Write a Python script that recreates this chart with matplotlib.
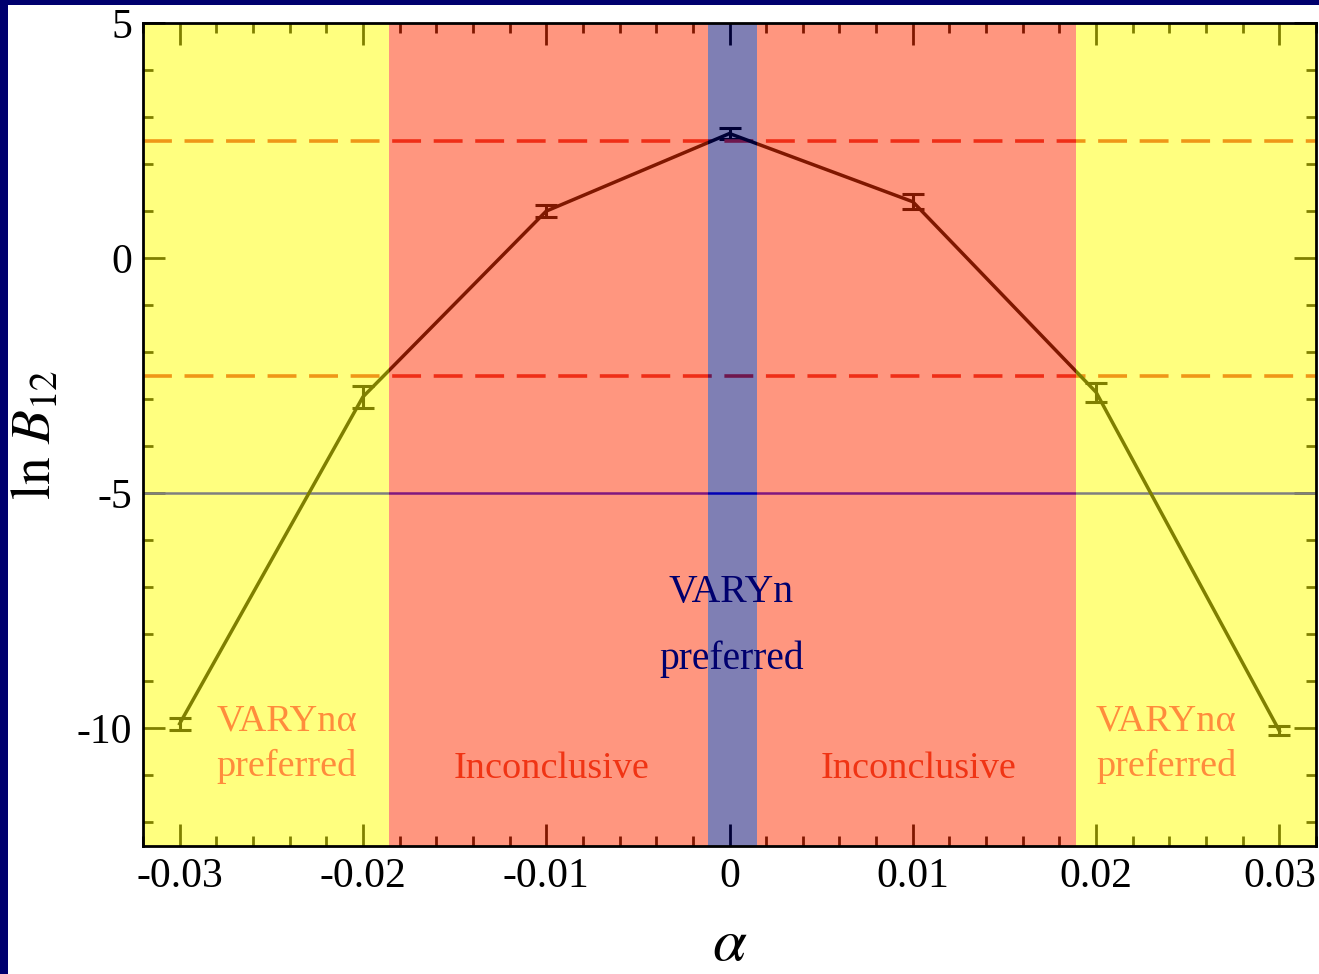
import matplotlib
matplotlib.use("Agg")
import matplotlib.pyplot as plt
from matplotlib.patches import Rectangle
from matplotlib.ticker import MultipleLocator

# data
alpha = [-0.03, -0.02, -0.01, 0.0, 0.01, 0.02, 0.03]
lnB = [-9.9, -2.95, 1.0, 2.65, 1.2, -2.85, -10.05]
err = [0.13, 0.23, 0.13, 0.11, 0.16, 0.2, 0.1]

# evidence regions (x limits of each band)
yellow_left = (-0.033, -0.0186)
red_left = (-0.0186, -0.0012)
blue_mid = (-0.0012, 0.0015)
red_right = (0.0015, 0.0189)
yellow_right = (0.0189, 0.033)
thresholds = [2.5, -2.5]
strong = -5

plt.rcParams['font.family'] = ['Liberation Serif', 'DejaVu Serif']
plt.rcParams['mathtext.fontset'] = 'stix'

fig = plt.figure(figsize=(13.19, 9.74), dpi=100)
fig.patch.set_facecolor('#00006e')
fig.add_artist(Rectangle((8 / 1319, 0), 1, 1 - 5 / 974, transform=fig.transFigure,
                         facecolor='white', edgecolor='none', zorder=-10))

ax = fig.add_axes([143 / 1319, 1 - 846 / 974, (1316 - 143) / 1319, (846 - 23) / 974])
ax.set_facecolor('white')

# line + error bars (drawn black, tinted by the bands above)
ax.errorbar(alpha, lnB, yerr=err, color='black', lw=2.5, elinewidth=2.2,
            capsize=8, capthick=2.2, zorder=2)
for t in thresholds:
    ax.axhline(t, color='#e03030', lw=2.6, dashes=(8, 3.5), zorder=2)
ax.axhline(strong, color='blue', lw=1.8, zorder=2)

# translucent bands
ax.axvspan(*yellow_left, color=(1, 1, 0), alpha=0.5, lw=0, zorder=3)
ax.axvspan(*red_left, color=(1, 0.18, 0), alpha=0.5, lw=0, zorder=3)
ax.axvspan(*blue_mid, color=(0, 0, 0.42), alpha=0.5, lw=0, zorder=3)
ax.axvspan(*red_right, color=(1, 0.18, 0), alpha=0.5, lw=0, zorder=3)
ax.axvspan(*yellow_right, color=(1, 1, 0), alpha=0.5, lw=0, zorder=3)

# labels inside the plot
fs = 27.5
ax.text(-0.028, -9.85, 'VARYn\u03b1', color='#ff8c3c', fontsize=fs, va='center', ha='left', zorder=5)
ax.text(-0.028, -10.81, 'preferred', color='#ff8c3c', fontsize=fs, va='center', ha='left', zorder=5)
ax.text(0.020, -9.85, 'VARYn\u03b1', color='#ff8c3c', fontsize=fs, va='center', ha='left', zorder=5)
ax.text(0.020, -10.81, 'preferred', color='#ff8c3c', fontsize=fs, va='center', ha='left', zorder=5)
ax.text(-0.0097, -10.85, 'Inconclusive', color='#f03414', fontsize=fs, va='center', ha='center', zorder=5)
ax.text(0.0103, -10.85, 'Inconclusive', color='#f03414', fontsize=fs, va='center', ha='center', zorder=5)
ax.text(0.0001, -7.1, 'VARYn', color='#00006e', fontsize=28.5, va='center', ha='center', zorder=5)
ax.text(0.0001, -8.53, 'preferred', color='#00006e', fontsize=28.5, va='center', ha='center', zorder=5)

ax.set_xlim(-0.032, 0.032)
ax.set_ylim(-12.5, 5)
ax.xaxis.set_major_locator(MultipleLocator(0.01))
ax.xaxis.set_minor_locator(MultipleLocator(0.002))
ax.yaxis.set_major_locator(MultipleLocator(5))
ax.yaxis.set_minor_locator(MultipleLocator(1))
ax.set_xticks([-0.03, -0.02, -0.01, 0, 0.01, 0.02, 0.03])
ax.set_xticklabels(['-0.03', '-0.02', '-0.01', '0', '0.01', '0.02', '0.03'])
ax.set_yticks([-10, -5, 0, 5])
ax.set_yticklabels(['-10', '-5', '0', '5'])
ax.tick_params(which='both', direction='in', top=True, right=True, color='black',
               labelsize=30, pad=8)
ax.tick_params(which='major', length=16, width=2)
ax.tick_params(which='minor', length=7.5, width=2)

for s in ax.spines.values():
    s.set_linewidth(2)
    s.set_zorder(4)

ax.set_ylabel(r'$\mathrm{ln}\ B_{12}$', fontsize=40, labelpad=10)
ax.set_xlabel(r'$\alpha$', fontsize=44, labelpad=16)

fig.savefig('out.png', dpi=100, facecolor=fig.get_facecolor())
